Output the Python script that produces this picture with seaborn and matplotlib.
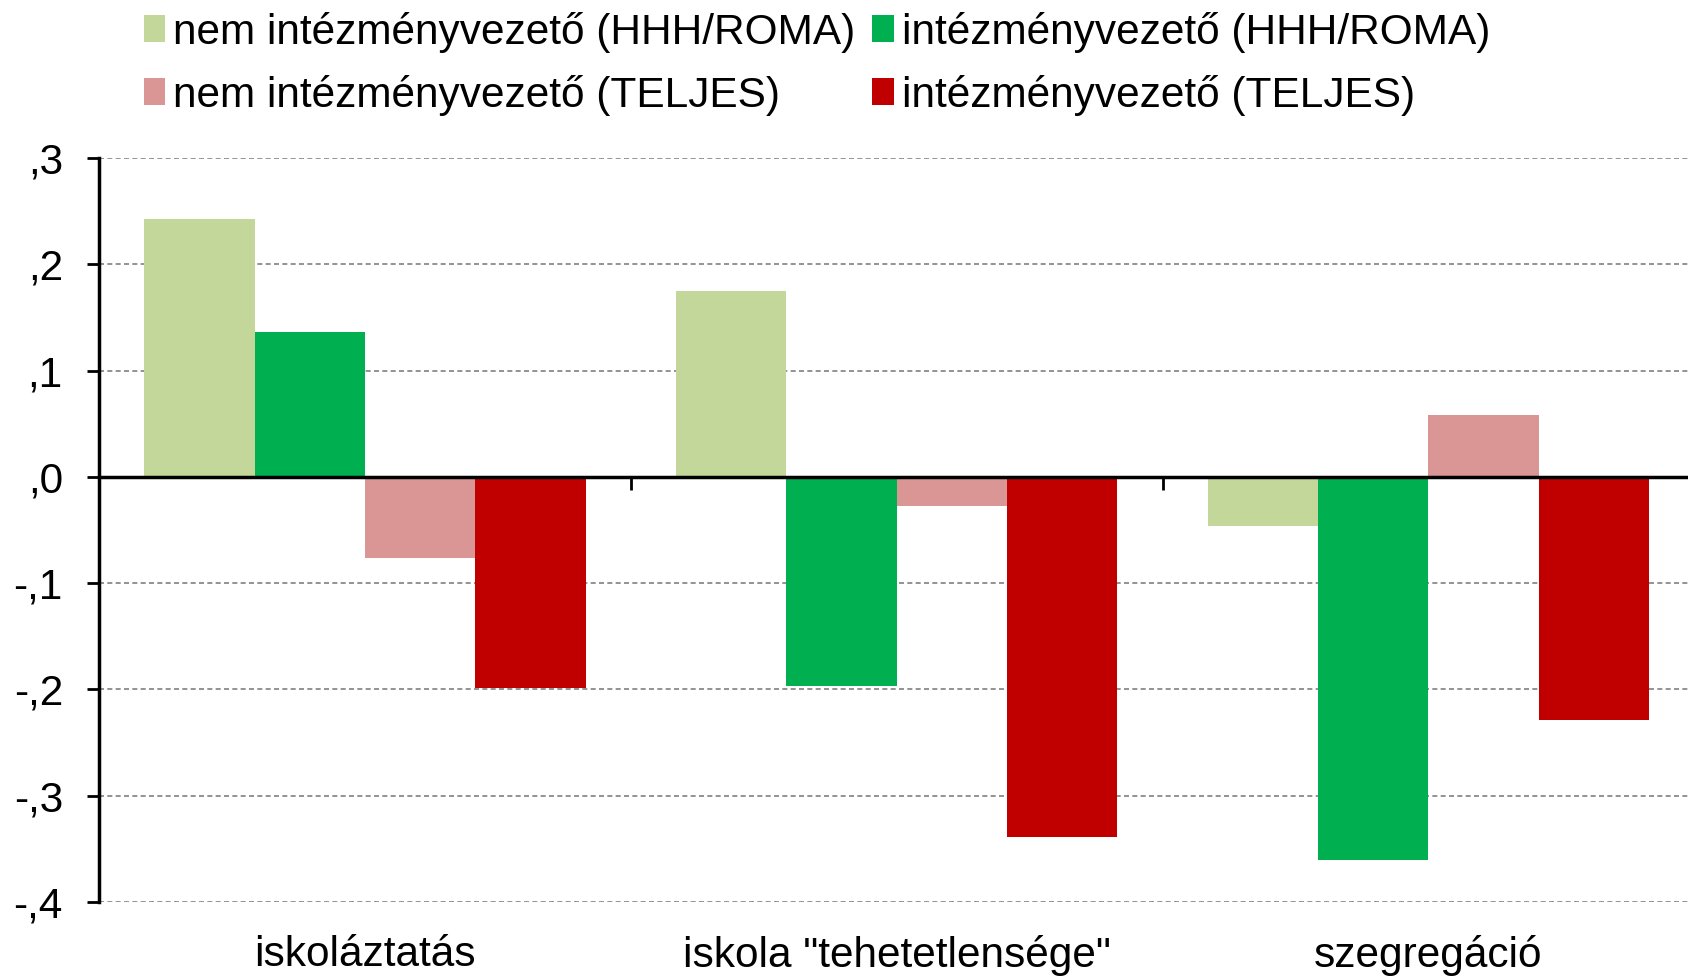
import matplotlib
matplotlib.use("Agg")
import matplotlib.pyplot as plt
from matplotlib.patches import Patch
from matplotlib.ticker import FixedLocator, FixedFormatter
import seaborn as sns
import pandas as pd

categories = ["iskoláztatás", "iskola \"tehetetlensége\"", "szegregáció"]
series = ["nem intézményvezető (HHH/ROMA)", "intézményvezető (HHH/ROMA)",
          "nem intézményvezető (TELJES)", "intézményvezető (TELJES)"]
nem_hhh = [0.243, 0.175, -0.046]
int_hhh = [0.136, -0.197, -0.361]
nem_teljes = [-0.076, -0.027, 0.058]
int_teljes = [-0.199, -0.339, -0.229]
colors = ["#C4D79B", "#00B050", "#DA9694", "#C00000"]
ytick_vals = [0.3, 0.2, 0.1, 0.0, -0.1, -0.2, -0.3, -0.4]
ytick_labels = [",3", ",2", ",1", ",0", "-,1", "-,2", "-,3", "-,4"]

rows = []
for s, vals in zip(series, [nem_hhh, int_hhh, nem_teljes, int_teljes]):
    for c, v in zip(categories, vals):
        rows.append({"cat": c, "series": s, "value": v})
df = pd.DataFrame(rows)

sns.set_theme(style="white")
plt.rcParams["font.family"] = ["Liberation Sans", "DejaVu Sans"]
plt.rcParams["text.color"] = "black"

FS = 30.5

fig = plt.figure(figsize=(16.88, 9.76), dpi=100)
ax = fig.add_axes([0.0587, 0.076, 0.945, 0.762])

sns.barplot(data=df, x="cat", y="value", hue="series", order=categories,
            hue_order=series, palette=colors, width=0.83, gap=0,
            saturation=1, errorbar=None, legend=False, ax=ax, zorder=2,
            linewidth=0, edgecolor="none")

ax.set_xlim(-0.5, 2.5)
ax.set_ylim(-0.4, 0.3)
ax.yaxis.set_major_locator(FixedLocator(ytick_vals))
ax.yaxis.set_major_formatter(FixedFormatter(ytick_labels))
ax.tick_params(axis="y", which="major", length=9, width=2, color="black",
               direction="out", left=True, labelsize=FS, pad=17, labelcolor="black")
for y in ytick_vals:
    if y != 0:
        ax.axhline(y, color="#808080", linestyle=(0, (3, 2)), linewidth=1.2, zorder=1)

# x axis at zero with boundary ticks
ax.spines["bottom"].set_position(("data", 0))
ax.spines["bottom"].set_linewidth(2.5)
ax.spines["bottom"].set_color("black")
ax.spines["bottom"].set_zorder(5)
ax.set_xticks([-0.5, 0.5, 1.5, 2.5])
ax.set_xticklabels([])
ax.tick_params(axis="x", length=9, width=2, color="black", direction="out", bottom=True)
ax.spines["left"].set_linewidth(2.5)
ax.spines["left"].set_color("black")
ax.spines["top"].set_visible(False)
ax.spines["right"].set_visible(False)
ax.set_xlabel("")
ax.set_ylabel("")

sec = ax.secondary_xaxis("bottom")
sec.set_xticks([0, 1, 2])
sec.set_xticklabels(categories)
sec.tick_params(length=0, labelsize=FS, pad=24, labelcolor="black")
sec.spines["bottom"].set_visible(False)

handles = [Patch(facecolor=c, edgecolor="none") for c in colors]
order = [0, 2, 1, 3]
fig.legend([handles[i] for i in order], [series[i] for i in order],
           loc="upper left", bbox_to_anchor=(0.070, 1.014),
           ncol=2, frameon=False, fontsize=FS, handlelength=0.5, handleheight=0.6,
           handletextpad=0.2, columnspacing=0.4, labelspacing=0.52,
           borderaxespad=0.2, labelcolor="black")

fig.savefig("out.png", dpi=100)
